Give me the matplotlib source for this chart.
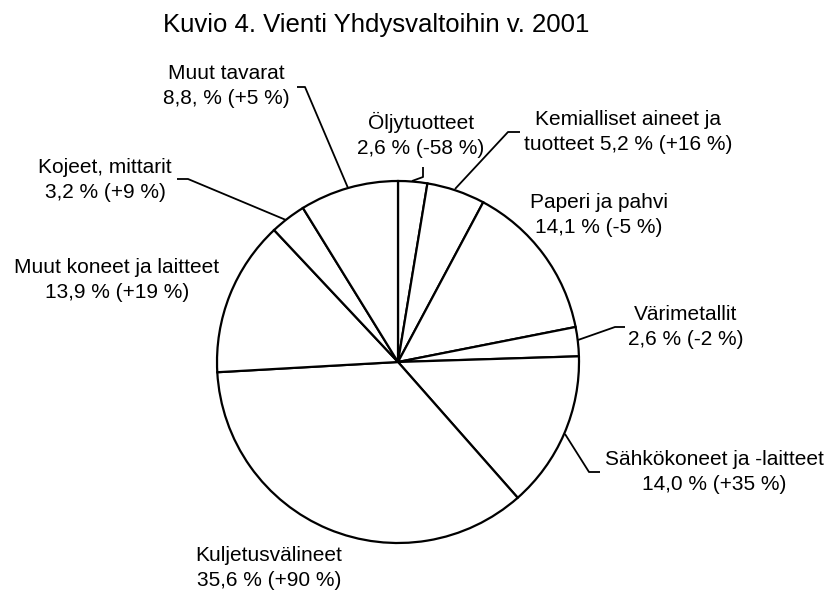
import matplotlib
matplotlib.use("Agg")
import matplotlib.pyplot as plt

# Vienti Yhdysvaltoihin 2001, osuudet (%) ja muutos (%)
categories = ["Öljytuotteet", "Kemialliset aineet ja\ntuotteet", "Paperi ja pahvi",
              "Värimetallit", "Sähkökoneet ja -laitteet", "Kuljetusvälineet",
              "Muut koneet ja laitteet", "Kojeet, mittarit", "Muut tavarat"]
shares = [2.6, 5.2, 14.1, 2.6, 14.0, 35.6, 13.9, 3.2, 8.8]
changes = [-58, 16, -5, -2, 35, 90, 19, 9, 5]
share_labels = ["2,6 %", "5,2 %", "14,1 %", "2,6 %", "14,0 %", "35,6 %",
                "13,9 %", "3,2 %", "8,8, %"]

W, H = 829, 592
plt.rcParams['font.family'] = ['Liberation Sans', 'DejaVu Sans']

fig = plt.figure(figsize=(W / 100, H / 100), dpi=100)
ax = fig.add_axes([0, 0, 1, 1])


def py(y):
    # pixel row (from top) -> data y
    return H - y


ax.pie(shares, center=(398, py(362)), radius=181, startangle=90,
       counterclock=False, colors=['white'] * len(shares),
       wedgeprops=dict(edgecolor='black', linewidth=1.6), frame=True)
ax.set_xlim(0, W)
ax.set_ylim(0, H)
ax.set_aspect('equal')
ax.axis('off')


def label_text(i):
    ch = changes[i]
    sign = '+' if ch > 0 else ''
    name = categories[i]
    if i == 1:
        return "%s %s (%s%d %%)" % (name, share_labels[i], sign, ch)
    return "%s\n%s (%s%d %%)" % (name, share_labels[i], sign, ch)


# label centre positions in pixels
label_pos = [(421, 135), (628, 132), (599, 215), (686, 327), (714, 472),
             (269, 568), (117, 280), (105, 180), (226, 86)]

for i, (x, y) in enumerate(label_pos):
    ax.text(x, py(y), label_text(i), ha='center', va='center', fontsize=15,
            linespacing=1.35, color='black')

# leader lines (pixel coords)
leaders = {
    0: [(423, 167), (423, 177), (412, 181)],
    1: [(520, 132), (508, 132), (455, 189)],
    3: [(625, 327), (615, 327), (578, 340)],
    4: [(600, 472), (589, 472), (565, 434)],
    7: [(177, 179), (188, 179), (286, 220)],
    8: [(297, 87), (305, 87), (348, 188)],
}
for pts in leaders.values():
    xs = [p[0] for p in pts]
    ys = [py(p[1]) for p in pts]
    ax.plot(xs, ys, color='black', linewidth=1.3, solid_capstyle='butt')

ax.text(376, py(25), "Kuvio 4. Vienti Yhdysvaltoihin v. 2001", ha='center',
        va='center', fontsize=18.5, color='black')

fig.savefig("out.png", dpi=100, facecolor='white')
